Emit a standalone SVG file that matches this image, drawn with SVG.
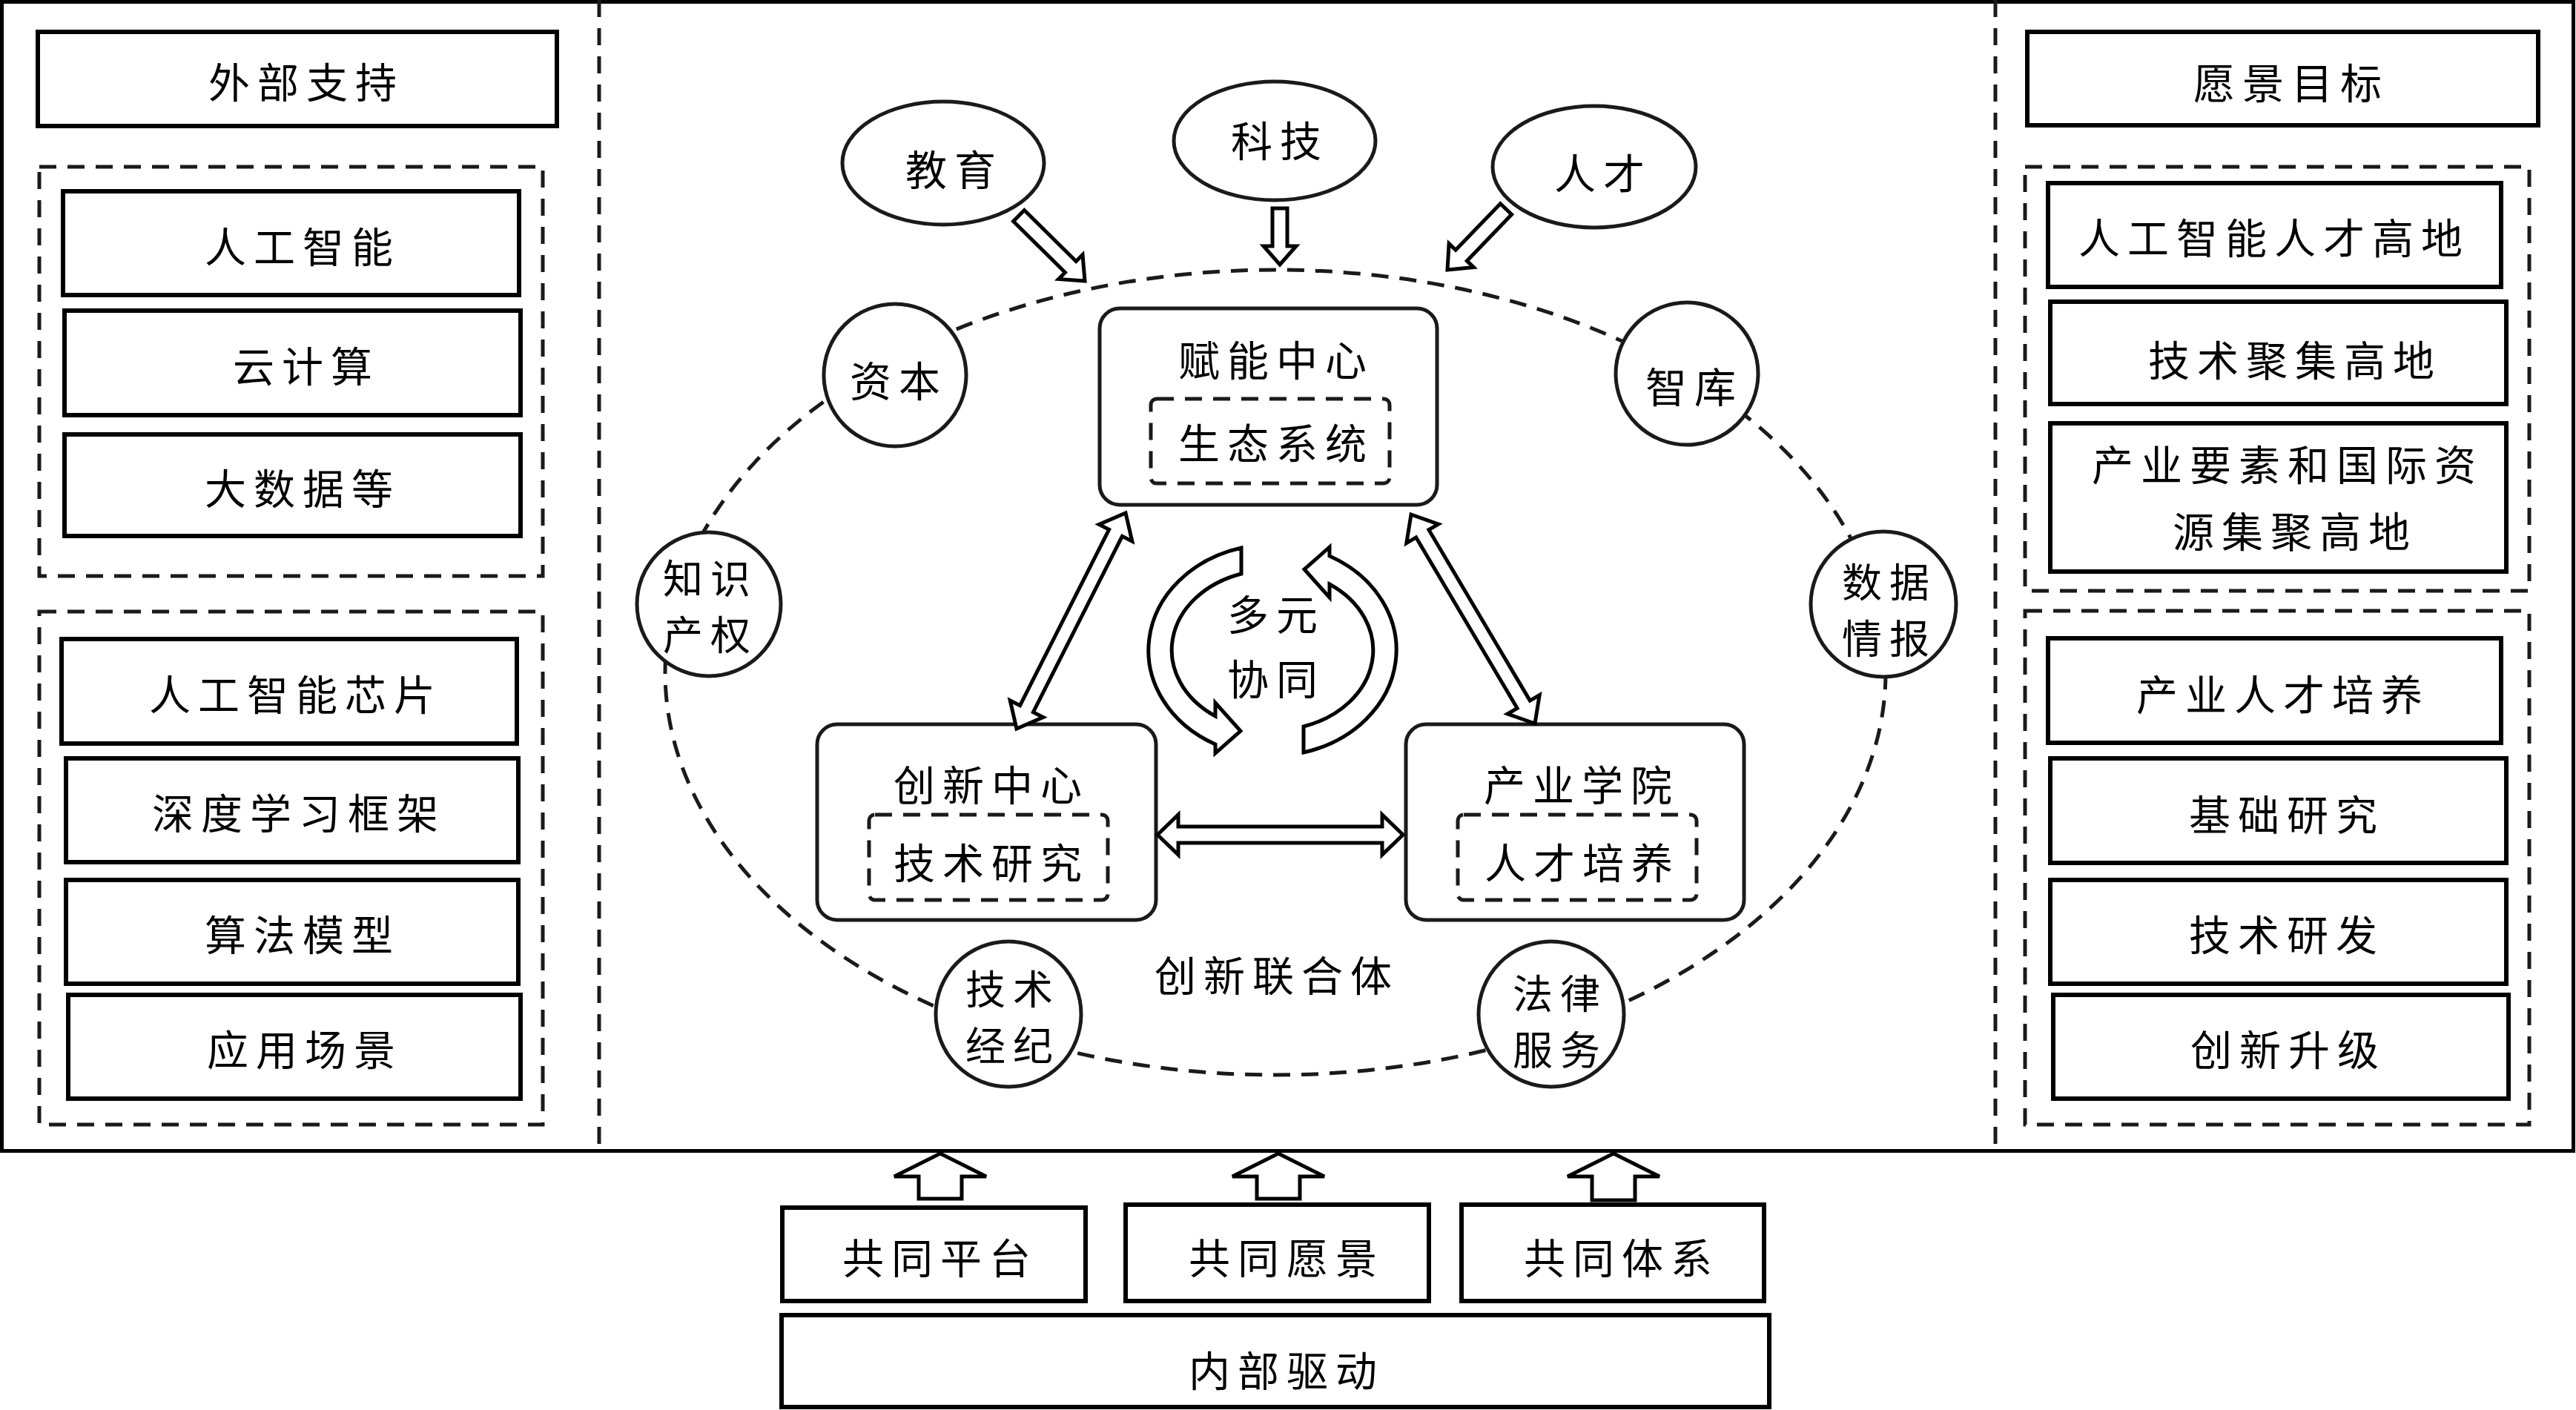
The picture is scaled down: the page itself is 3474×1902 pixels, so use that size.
<svg xmlns="http://www.w3.org/2000/svg" width="3474" height="1902" viewBox="0 0 3474 1902">
<style>
.t{font-family:"Noto Sans CJK SC","Noto Sans CJK JP",sans-serif;font-size:56px;letter-spacing:10px;text-anchor:middle;dominant-baseline:central;fill:#000}
.c2{font-size:54px}
.box{fill:#fff;stroke:#000;stroke-width:6}
.dash{fill:none;stroke:#1a1a1a;stroke-width:5;stroke-dasharray:23 15}
.node{fill:#fff;stroke:#1a1a1a;stroke-width:5}
.arr{fill:#fff;stroke:#000;stroke-width:5;stroke-linejoin:miter}
</style>
<rect x="0" y="0" width="3474" height="1902" fill="#fff"/>
<g id="frame">
<rect x="2.5" y="2.5" width="3468" height="1550" fill="none" stroke="#000" stroke-width="5"/>
<line x1="808" y1="0" x2="808" y2="1552" class="dash"/>
<line x1="2691" y1="0" x2="2691" y2="1552" class="dash"/>
</g>
<g id="external">
<rect class="box" x="51" y="43" width="700" height="127"/>
<text class="t" x="413" y="107">外部支持</text>
<rect class="dash" x="53" y="225" width="679" height="552"/>
<rect class="box" x="85" y="258" width="615" height="140"/>
<text class="t" x="408" y="329">人工智能</text>
<rect class="box" x="87" y="419" width="615" height="141"/>
<text class="t" x="413" y="490">云计算</text>
<rect class="box" x="87" y="586" width="615" height="137"/>
<text class="t" x="408" y="655">大数据等</text>
<rect class="dash" x="53" y="825" width="679" height="692"/>
<rect class="box" x="83" y="862" width="614" height="141"/>
<text class="t" x="399" y="933">人工智能芯片</text>
<rect class="box" x="89" y="1023" width="610" height="140"/>
<text class="t" x="403" y="1093">深度学习框架</text>
<rect class="box" x="89" y="1187" width="610" height="140"/>
<text class="t" x="408" y="1257">算法模型</text>
<rect class="box" x="92" y="1342" width="610" height="140"/>
<text class="t" x="411" y="1412">应用场景</text>
</g>
<g id="vision">
<rect class="box" x="2734" y="43" width="689" height="126"/>
<text class="t" x="3090" y="108">愿景目标</text>
<rect class="dash" x="2731" y="225" width="680" height="572"/>
<rect class="box" x="2762" y="247" width="611" height="140"/>
<text class="t" x="3067" y="317">人工智能人才高地</text>
<rect class="box" x="2765" y="407" width="615" height="138"/>
<text class="t" x="3095" y="482">技术聚集高地</text>
<rect class="box" x="2765" y="571" width="615" height="200"/>
<text class="t" x="3085" y="623">产业要素和国际资</text>
<text class="t" x="3095" y="713">源集聚高地</text>
<rect class="dash" x="2731" y="824" width="680" height="693"/>
<rect class="box" x="2762" y="861" width="611" height="141"/>
<text class="t" x="3079" y="933">产业人才培养</text>
<rect class="box" x="2765" y="1023" width="615" height="141"/>
<text class="t" x="3084" y="1095">基础研究</text>
<rect class="box" x="2765" y="1187" width="615" height="140"/>
<text class="t" x="3084" y="1257">技术研发</text>
<rect class="box" x="2769" y="1342" width="614" height="140"/>
<text class="t" x="3086" y="1412">创新升级</text>
</g>
<g id="union">
<ellipse class="dash" cx="1720" cy="907" rx="823" ry="543"/>
<text class="t" x="1722" y="1312">创新联合体</text>
</g>
<g id="edu">
<ellipse class="node" cx="1272" cy="220" rx="136" ry="83"/>
<text class="t" x="1287" y="225">教育</text>
</g>
<g id="tech">
<ellipse class="node" cx="1719" cy="190" rx="136" ry="80"/>
<text class="t" x="1726" y="186">科技</text>
</g>
<g id="talent">
<ellipse class="node" cx="2150" cy="225" rx="137" ry="82"/>
<text class="t" x="2162" y="230">人才</text>
</g>
<g id="capital">
<circle class="node" cx="1207" cy="506" r="96"/>
<text class="t" x="1212" y="510">资本</text>
</g>
<g id="think">
<circle class="node" cx="2275" cy="504" r="96"/>
<text class="t" x="2285" y="518">智库</text>
</g>
<g id="ip">
<circle class="node" cx="956" cy="815" r="97"/>
<text class="t c2" x="958" y="777">知识</text>
<text class="t c2" x="958" y="853">产权</text>
</g>
<g id="data">
<circle class="node" cx="2540" cy="815" r="98"/>
<text class="t c2" x="2548" y="782">数据</text>
<text class="t c2" x="2548" y="858">情报</text>
</g>
<g id="broker">
<circle class="node" cx="1360" cy="1368" r="98"/>
<text class="t c2" x="1366" y="1331">技术</text>
<text class="t c2" x="1366" y="1407">经纪</text>
</g>
<g id="legal">
<circle class="node" cx="2092" cy="1368" r="98"/>
<text class="t c2" x="2104" y="1337">法律</text>
<text class="t c2" x="2104" y="1413">服务</text>
</g>
<g id="enable">
<rect class="node" x="1483" y="416" width="455" height="265" rx="27"/>
<text class="t" x="1721" y="482">赋能中心</text>
<rect class="dash" x="1552" y="538" width="322" height="114" rx="8"/>
<text class="t" x="1721" y="594">生态系统</text>
</g>
<g id="innov">
<rect class="node" x="1102" y="977" width="457" height="264" rx="27"/>
<text class="t" x="1337" y="1055">创新中心</text>
<rect class="dash" x="1172" y="1099" width="322" height="115" rx="8"/>
<text class="t" x="1337" y="1160">技术研究</text>
</g>
<g id="college">
<rect class="node" x="1896" y="977" width="456" height="264" rx="27"/>
<text class="t" x="2133" y="1055">产业学院</text>
<rect class="dash" x="1966" y="1099" width="322" height="115" rx="8"/>
<text class="t" x="2134" y="1160">人才培养</text>
</g>
<g id="synergy">
<path class="arr" d="M1674 739 A168 143 0 0 0 1639 1004 L1639 1016 L1673 986 L1639 948 L1639 966 A135 108 0 0 1 1674 774 Z"/>
<path class="arr" transform="rotate(180 1716 877)" d="M1674 739 A168 143 0 0 0 1639 1004 L1639 1016 L1673 986 L1639 948 L1639 966 A135 108 0 0 1 1674 774 Z"/>
<text class="t" x="1721" y="825">多元</text>
<text class="t" x="1721" y="912">协同</text>
</g>
<g id="bottom">
<rect class="box" x="1055" y="1629" width="409" height="126"/>
<text class="t" x="1268" y="1693">共同平台</text>
<rect class="box" x="1518" y="1625" width="409" height="130"/>
<text class="t" x="1735" y="1693">共同愿景</text>
<rect class="box" x="1971" y="1625" width="408" height="130"/>
<text class="t" x="2187" y="1693">共同体系</text>
<rect class="box" x="1054" y="1774" width="1332" height="124"/>
<text class="t" x="1735" y="1845">内部驱动</text>
</g>
<g id="connectors">
<polygon class="arr" points="1366.6,298.5 1436.4,367.5 1427.6,376.4 1463,379 1460,343.6 1451.2,352.5 1381.4,283.5"/>
<polygon class="arr" points="1716,281 1716,332 1704,332 1726,357 1748,332 1736,332 1736,281"/>
<polygon class="arr" points="2023.4,274.7 1963.1,337.3 1954.1,328.6 1952,364 1987.3,360.6 1978.3,351.9 2038.6,289.3"/>
<polygon class="arr" points="1371,983 1406.8,967.5 1393.4,960.7 1513.4,723.3 1526.8,730.1 1518,692 1482.2,707.5 1495.6,714.3 1375.6,951.7 1362.2,944.9"/>
<polygon class="arr" points="2070,976 2076.2,937.5 2063.3,945.1 1926.9,714.7 1939.8,707.1 1903,694 1896.8,732.6 1909.7,724.9 2046.1,955.3 2033.2,963"/>
<polygon class="arr" points="1561,1126 1589,1099 1589,1115 1864,1115 1864,1099 1892,1126 1864,1153 1864,1137 1589,1137 1589,1153"/>
<polygon class="arr" points="1239,1617 1239,1587 1206,1587 1268,1556 1330,1587 1297,1587 1297,1617"/>
<polygon class="arr" points="1695,1617 1695,1587 1662,1587 1724,1556 1786,1587 1753,1587 1753,1617"/>
<polygon class="arr" points="2147,1619 2147,1587 2114,1587 2176,1556 2238,1587 2205,1587 2205,1619"/>
</g>
</svg>
